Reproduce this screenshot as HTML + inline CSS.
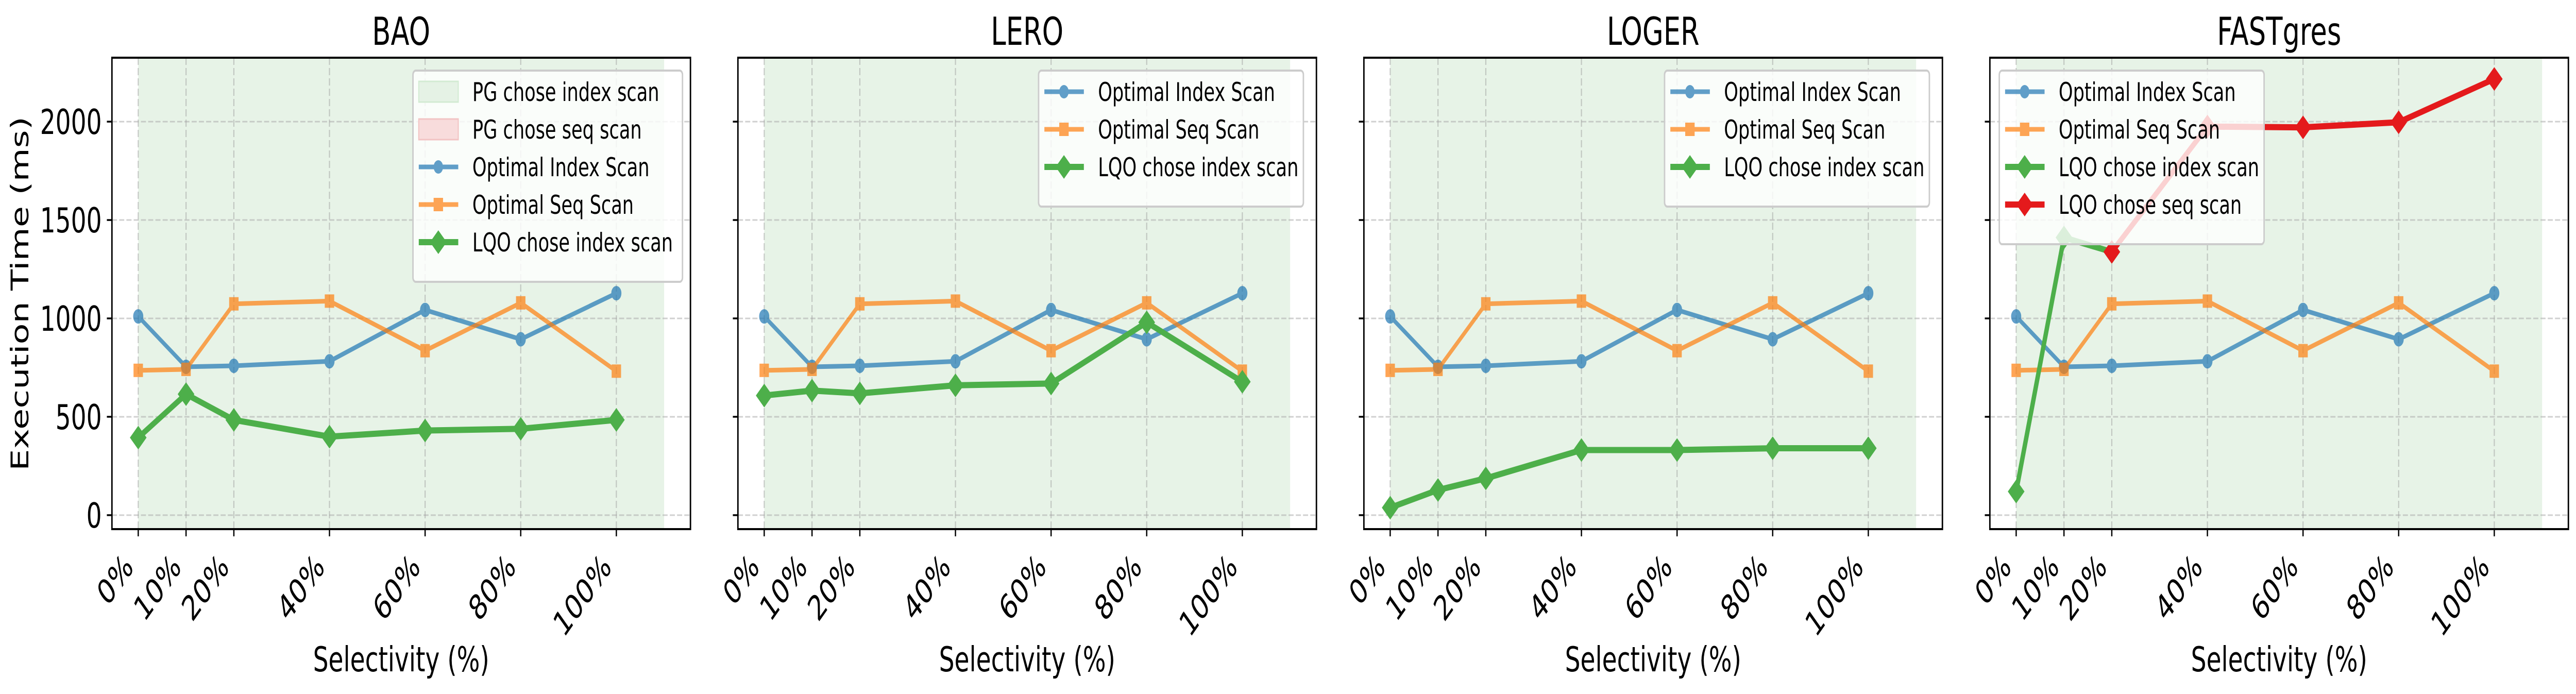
<!DOCTYPE html>
<html><head><meta charset="utf-8"><style>
html,body{margin:0;padding:0;background:#fff;overflow:hidden;width:100%;height:100%;}
svg{display:block;width:100vw;height:100vh;font-family:"DejaVu Sans","Liberation Sans",sans-serif;}
</style></head><body>
<svg id="chart" xmlns="http://www.w3.org/2000/svg" viewBox="0 0 7111 1347" preserveAspectRatio="none"></svg>
<script>
const categories = [0, 10, 20, 40, 60, 80, 100];
const xTickLabels = ["0%", "10%", "20%", "40%", "60%", "80%", "100%"];
const yTicks = [0, 500, 1000, 1500, 2000];
const panelTitles = ["BAO", "LERO", "LOGER", "FASTgres"];
const optimalIndex = [1010, 754, 759, 782, 1043, 894, 1128];
const optimalSeq = [736, 741, 1074, 1088, 836, 1079, 732];
const baoLqoIndex = [394, 615, 484, 399, 430, 439, 484];
const leroLqoIndex = [608, 633, 619, 660, 669, 980, 678];
const logerLqoIndex = [38, 128, 187, 331, 331, 340, 340];
const fastLqoIndex = [120, 1411, 1338];
const fastLqoIndexCats = [0, 10, 20];
const fastLqoSeq = [1338, 1975, 1971, 1997, 2217];
const fastLqoSeqCats = [20, 40, 60, 80, 100];
const pgIndexRegion = [0, 110];

const NS = "http://www.w3.org/2000/svg";
const svg = document.getElementById('chart');
function mk(tag, attrs, parent, text) {
  const e = document.createElementNS(NS, tag);
  for (const k in attrs) e.setAttribute(k, attrs[k]);
  if (text !== undefined) e.textContent = text;
  (parent || svg).appendChild(e);
  return e;
}
const lefts = [309, 2037, 3765, 5493];
const W = 1597, TOP = 112, BOT = 1027;
const XMIN = -5.5, XMAX = 115.5, YMIN = -71, YMAX = 2325;
const FS = 67;
const C_BLUE = "#1f77b4", C_OR = "#ff7f0e", C_GREEN = "#4daf4a", C_RED = "#e41a1c";

function diamond(g, x, y, col, name) {
  const p = mk('polygon', {points: `${x},${y-23} ${x+23},${y} ${x},${y+23} ${x-23},${y}`, fill: col}, g);
  
  
}
function series(g, xs, ys, sx, sy, col, kind, name, op) {
  const pts = xs.map((c, i) => sx(c) + ',' + sy(ys[i])).join(' ');
  const gg = mk('g', {opacity: op}, g);
  
  
  mk('polyline', {points: pts, fill: 'none', stroke: col, 'stroke-width': kind === 'D' ? 12 : 9, 'stroke-linejoin': 'round'}, gg);
  xs.forEach((c, i) => {
    const x = sx(c), y = sy(ys[i]);
    if (kind === 'o') { const m = mk('circle', {cx: x, cy: y, r: 13, fill: col, stroke: col, 'stroke-width': 2}, gg);   }
    else if (kind === 's') { const m = mk('rect', {x: x-13, y: y-13, width: 26, height: 26, fill: col}, gg);   }
    else diamond(gg, x, y, col, name + '-point');
  });
}
function legend(g, mode, pos, entries) {
  const lg = mk('g', {}, g);
  
  
  const w = entries.length === 5 ? 744 : 731;
  const h = 40 + entries.length * 73 + 5;
  mk('rect', {x: 0, y: 0, width: w, height: h, rx: 8, fill: '#ffffff', 'fill-opacity': 0.8, stroke: '#cccccc', 'stroke-width': 4}, lg);
  entries.forEach((e, i) => {
    const cy = 41 + i * 73;
    const ent = mk('g', {}, lg);
    
    
    if (e.kind === 'patch') {
      mk('rect', {x: 16, y: cy - 20, width: 109, height: 40, fill: e.fill, stroke: e.stroke, 'stroke-width': 3}, ent);
    } else {
      const og = mk('g', {opacity: e.op}, ent);
      mk('line', {x1: 16, y1: cy, x2: 125, y2: cy, stroke: e.col, 'stroke-width': e.kind === 'D' ? 12 : 9}, og);
      if (e.kind === 'o') mk('circle', {cx: 70, cy: cy, r: 13, fill: e.col}, og);
      else if (e.kind === 's') mk('rect', {x: 57, y: cy - 13, width: 26, height: 26, fill: e.col}, og);
      else mk('polygon', {points: `70,${cy-23} 93,${cy} 70,${cy+23} 47,${cy}`, fill: e.col}, og);
    }
    mk('text', {x: 164, y: cy + 18, 'font-size': 50, fill: '#000'}, ent, e.label);
  });
  lg.setAttribute('transform', `translate(${mode === 'right' ? pos - w : pos},${TOP + 25})`);
  return lg;
}

const baseEntries = [
  {kind: 'o', col: C_BLUE, op: 0.7, label: 'Optimal Index Scan'},
  {kind: 's', col: C_OR, op: 0.7, label: 'Optimal Seq Scan'},
  {kind: 'D', col: C_GREEN, op: 1, label: 'LQO chose index scan'}
];
const lqoData = [baoLqoIndex, leroLqoIndex, logerLqoIndex];

panelTitles.forEach((title, p) => {
  const L = lefts[p], R = L + W;
  const sx = v => L + (v - XMIN) / (XMAX - XMIN) * W;
  const sy = v => BOT - (v - YMIN) / (YMAX - YMIN) * (BOT - TOP);
  const g = mk('g', {});
  
  
  const reg = mk('rect', {x: sx(pgIndexRegion[0]), y: TOP, width: sx(pgIndexRegion[1]) - sx(pgIndexRegion[0]), height: BOT - TOP, fill: '#e7f3e7'}, g);
  
  
  yTicks.forEach(t => mk('line', {x1: L, x2: R, y1: sy(t), y2: sy(t), stroke: '#b0b0b0', 'stroke-opacity': 0.6, 'stroke-width': 3, 'stroke-dasharray': '14,6'}, g));
  categories.forEach(c => mk('line', {x1: sx(c), x2: sx(c), y1: TOP, y2: BOT, stroke: '#a0a0a0', 'stroke-opacity': 0.55, 'stroke-width': 3, 'stroke-dasharray': '14,6'}, g));
  series(g, categories, optimalIndex, sx, sy, C_BLUE, 'o', 'optimal-index-line', 0.7);
  series(g, categories, optimalSeq, sx, sy, C_OR, 's', 'optimal-seq-line', 0.7);
  if (p < 3) series(g, categories, lqoData[p], sx, sy, C_GREEN, 'D', 'lqo-index-line', 1);
  else {
    series(g, fastLqoIndexCats, fastLqoIndex, sx, sy, C_GREEN, 'D', 'lqo-index-line', 1);
    series(g, fastLqoSeqCats, fastLqoSeq, sx, sy, C_RED, 'D', 'lqo-seq-line', 1);
  }
  const sp = mk('rect', {x: L, y: TOP, width: W, height: BOT - TOP, fill: 'none', stroke: '#000', 'stroke-width': 4}, g);
  
  
  yTicks.forEach(t => {
    mk('line', {x1: L - 14, x2: L, y1: sy(t), y2: sy(t), stroke: '#000', 'stroke-width': 3.5}, g);
    if (p === 0) {
      const tl = mk('text', {x: L - 28, y: sy(t) + 24, 'font-size': FS, 'text-anchor': 'end'}, g, String(t));
      
      
    }
  });
  categories.forEach((c, i) => {
    mk('line', {x1: sx(c), x2: sx(c), y1: BOT, y2: BOT + 14, stroke: '#000', 'stroke-width': 3.5}, g);
    const tl = mk('text', {x: 0, y: 0, 'font-size': FS, 'text-anchor': 'end', transform: `translate(${sx(c) - 10},${1104}) rotate(-45)`}, g, xTickLabels[i]);
    
    
  });
  const tt = mk('text', {x: (L + R) / 2, y: 87, 'font-size': 75, 'text-anchor': 'middle'}, g, title);
  
  
  const xl = mk('text', {x: (L + R) / 2, y: 1303, 'font-size': FS, 'text-anchor': 'middle'}, g, 'Selectivity (%)');
  
  
  if (p === 0) {
    legend(g, 'right', R - 22, [
      {kind: 'patch', fill: '#e5f2e5', stroke: '#d3ebd3', label: 'PG chose index scan'},
      {kind: 'patch', fill: '#f8dcdc', stroke: '#f2c4c4', label: 'PG chose seq scan'}
    ].concat(baseEntries));
  } else if (p < 3) {
    legend(g, 'right', R - 36, baseEntries);
  } else {
    legend(g, 'left', L + 26, baseEntries.concat([{kind: 'D', col: C_RED, op: 1, label: 'LQO chose seq scan'}]));
  }
});
const yl = mk('text', {x: 0, y: 0, 'font-size': FS, 'text-anchor': 'middle', transform: 'translate(78,570) rotate(-90)'}, svg, 'Execution Time (ms)');


</script>
</body></html>
